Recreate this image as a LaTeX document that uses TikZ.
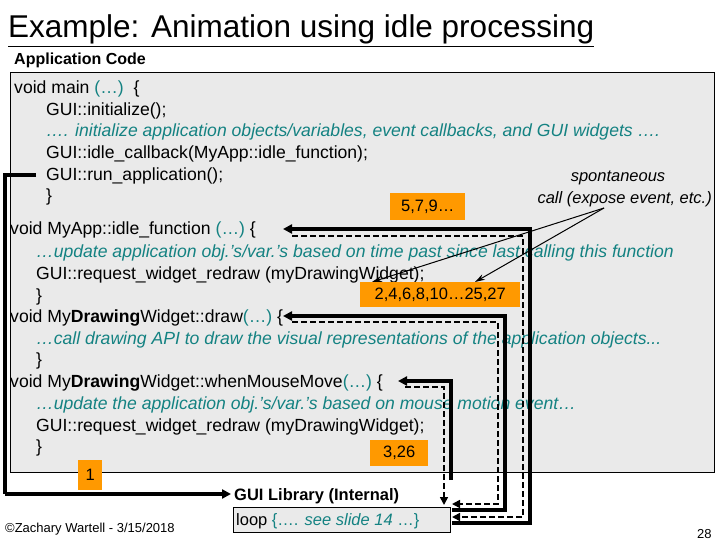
\documentclass[tikz,border=0pt]{standalone}
\usepackage{fontspec}
\setmainfont{Liberation Sans}
\usetikzlibrary{arrows.meta}
\definecolor{teal2}{RGB}{20,130,130}
\definecolor{org}{RGB}{255,153,0}
\definecolor{bg}{RGB}{234,234,234}
\newcommand{\tl}[1]{\textcolor{teal2}{#1}}
\begin{document}
\begin{tikzpicture}[x=1pt,y=-1pt,
  code/.style={anchor=base west,inner sep=0pt,font=\fontsize{17.6}{19}\selectfont},
  num/.style={fill=org,font=\fontsize{16.5}{18}\selectfont,inner sep=0pt,anchor=north west},
  thick1/.style={line width=3.6pt,-{Triangle[length=9pt,width=9pt]}},
  dash1/.style={line width=1.6pt,dash pattern=on 6pt off 3pt,-{Triangle[length=8pt,width=8pt]}},
  thin1/.style={line width=1pt,-{Stealth[length=10pt,width=6pt]}}]
\useasboundingbox (0,0) rectangle (720,540);
\node[code,font=\fontsize{31.5}{34}\selectfont] (title) at (8,38) {\underline{Example: Animation using idle processing}};
\node[code,font=\bfseries\fontsize{16}{18}\selectfont] (ac) at (14,65) {Application Code};
\node[draw,fill=bg,line width=1pt,minimum width=704,minimum height=400,anchor=north west,inner sep=0] (box) at (10,72) {};
\node[code] (l1) at (14,94) {void main \tl{(…)} \ \{};
\node[code] (l2) at (46,116) {GUI::initialize();};
\node[code] (l3) at (46,137) {\tl{\itshape …. initialize application objects/variables, event callbacks, and GUI widgets ….}};
\node[code] (l4) at (46,159) {GUI::idle\_callback(MyApp::idle\_function);};
\node[code] (l5) at (46,181) {GUI::run\_application();};
\node[code] (l6) at (46,202) {\}};
\node[code] (m1) at (10,235) {void MyApp::idle\_function \tl{(…)} \{};
\node[code] (m2) at (36,257) {\tl{\itshape …update application obj.’s/var.’s based on time past since last calling this function}};
\node[code] (m3) at (36,279) {GUI::request\_widget\_redraw (myDrawingWidget);};
\node[code] (m4) at (36,301) {\}};
\node[code] (d1) at (10,322) {void My\textbf{Drawing}Widget::draw\tl{(…)} \{};
\node[code] (d2) at (36,344) {\tl{\itshape …call drawing API to draw the visual representations of the application objects...}};
\node[code] (d3) at (36,365) {\}};
\node[code] (w1) at (10,387) {void My\textbf{Drawing}Widget::whenMouseMove\tl{(…)} \{};
\node[code] (w2) at (36,409) {\tl{\itshape …update the application obj.’s/var.’s based on mouse motion event…}};
\node[code] (w3) at (36,431) {GUI::request\_widget\_redraw (myDrawingWidget);};
\node[code] (w4) at (36,452) {\}};
\node[code,font=\itshape\fontsize{16.5}{18}\selectfont,anchor=base] (sp) at (618,182) {spontaneous};
\node[code,font=\itshape\fontsize{16.5}{18}\selectfont,anchor=base east] (ce) at (712,204) {call (expose event, etc.)};
\node[num,minimum width=75,minimum height=27] (n5) at (390,193) {5,7,9…};
\node[num,minimum width=160,minimum height=25] (n2) at (360,282) {2,4,6,8,10…25,27};
\node[num,minimum width=58,minimum height=26] (n3) at (370,440) {3,26};
\node[num,minimum width=24,minimum height=30] (n1) at (78,460) {1};
\node[code,font=\bfseries\fontsize{16.5}{18}\selectfont] (gl) at (234,500) {GUI Library (Internal)};
\node[draw,fill=bg,line width=1pt,anchor=north west,minimum width=217,minimum height=25,inner sep=0] (loop) at (233,507) {};
\node[code,font=\fontsize{16.5}{18}\selectfont] (lt) at (236,525) {loop \tl{\{…. \textit{see slide 14} …\}}};
\node[code,font=\fontsize{13}{14}\selectfont] (cp) at (5,532) {©Zachary Wartell - 3/15/2018};
\node[code,font=\fontsize{13}{14}\selectfont] (pg) at (697,538) {28};
\coordinate (s1) at (36,175);
\coordinate (e1) at (231,494);
\draw[line width=3.6pt] (s1) -- (5,175) -- (5,494);
\draw[thick1] (5,494) -- (e1);
% idle
\coordinate (ia) at (283,229);
\draw[thick1] (452,523) -- (530,523) -- (530,229) -- (ia);
\draw[dash1] (292,236) -- (523,236) -- (523,517) -- (452,517);
% draw
\coordinate (da) at (283,316);
\draw[thick1] (452,510) -- (505,510) -- (505,316) -- (da);
\draw[dash1] (292,322) -- (498,322) -- (498,504) -- (452,504);
% mouse
\coordinate (ma) at (398,381);
\draw[thick1] (451,480) -- (451,381) -- (ma);
\draw[dash1] (405,387) -- (444,387) -- (444,505);
% spontaneous
\coordinate (sp0) at (604,208);
\draw[thin1] (sp0) -- (372,282);
\draw[thin1] (sp0) -- (475,282);
\end{tikzpicture}
\end{document}
